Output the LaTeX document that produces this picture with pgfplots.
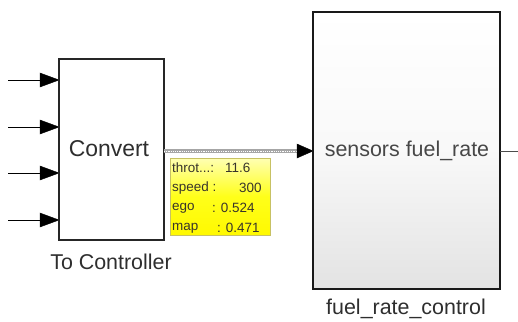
\documentclass[border=0pt]{standalone}
\usepackage{pgfplots}
\pgfplotsset{compat=1.18}
\usepackage{fontspec}
\setmainfont{Liberation Sans}
\begin{document}
\begin{tikzpicture}
\begin{axis}[
  width=518bp, height=322bp, scale only axis,
  xmin=0, xmax=518, ymin=0, ymax=322, y dir=reverse,
  hide axis, clip=false,
]
% input arrows
\addplot[black, line width=1pt] coordinates {(8,80) (50,80)};
\addplot[black, line width=1pt] coordinates {(8,127) (50,127)};
\addplot[black, line width=1pt] coordinates {(8,173) (50,173)};
\addplot[black, line width=1pt] coordinates {(8,220) (50,220)};
\addplot[black, fill=black] coordinates {(40,73) (59,80) (40,87)} -- cycle;
\addplot[black, fill=black] coordinates {(40,120) (59,127) (40,134)} -- cycle;
\addplot[black, fill=black] coordinates {(40,166) (59,173) (40,180)} -- cycle;
\addplot[black, fill=black] coordinates {(40,213) (59,220) (40,227)} -- cycle;
% Convert block
\addplot[draw=black!85, line width=1.3pt, fill=white] coordinates {(59,59) (164,59) (164,240) (59,240)} -- cycle;
\node[font=\fontsize{23}{26}\selectfont, text=black!82] at (axis cs:109,149) {Convert};
\node[font=\fontsize{21.5}{24}\selectfont, text=black!82] at (axis cs:111,262) {To Controller};
% bus signal
\addplot[gray!70, line width=3.4pt] coordinates {(164,151) (300,151)};
\addplot[white, line width=1pt, dash pattern=on 1.2pt off 1pt] coordinates {(164,151) (300,151)};
\addplot[black, fill=black] coordinates {(297,144) (313,151) (297,158)} -- cycle;
% right block
\addplot[draw=black!90, line width=2.8pt, top color=white, bottom color=gray!22, middle color=gray!5] coordinates {(313,12) (500,12) (500,289) (313,289)} -- cycle;
\node[font=\fontsize{21.5}{24}\selectfont, text=black!72] at (axis cs:407,151) {sensors fuel\_rate};
\node[font=\fontsize{21.5}{24}\selectfont, text=black!82] at (axis cs:406,309) {fuel\_rate\_control};
\addplot[black!70, line width=0.8pt] coordinates {(500,151) (518,151)};
% tooltip
\addplot[draw=yellow!50!gray, line width=0.6pt, top color=yellow!30, bottom color=yellow!95!orange, middle color=yellow!90] coordinates {(170,158) (270,158) (270,235) (170,235)} -- cycle;
\begin{scope}[every node/.style={font=\fontsize{13.5}{14}\selectfont, text=black!80!olive, inner sep=0pt}]
\node[anchor=west] at (axis cs:172,168) {throt...:};
\node[anchor=west] at (axis cs:225,168) {11.6};
\node[anchor=west] at (axis cs:172,188) {speed :};
\node[anchor=west] at (axis cs:239,188) {300};
\node[anchor=west] at (axis cs:172,208) {ego};
\node[anchor=west] at (axis cs:212,208) {: 0.524};
\node[anchor=west] at (axis cs:172,228) {map};
\node[anchor=west] at (axis cs:217,228) {: 0.471};
\end{scope}
\end{axis}
\pgfresetboundingbox
\path (current axis.south west) rectangle (current axis.north east);
\end{tikzpicture}
\end{document}
